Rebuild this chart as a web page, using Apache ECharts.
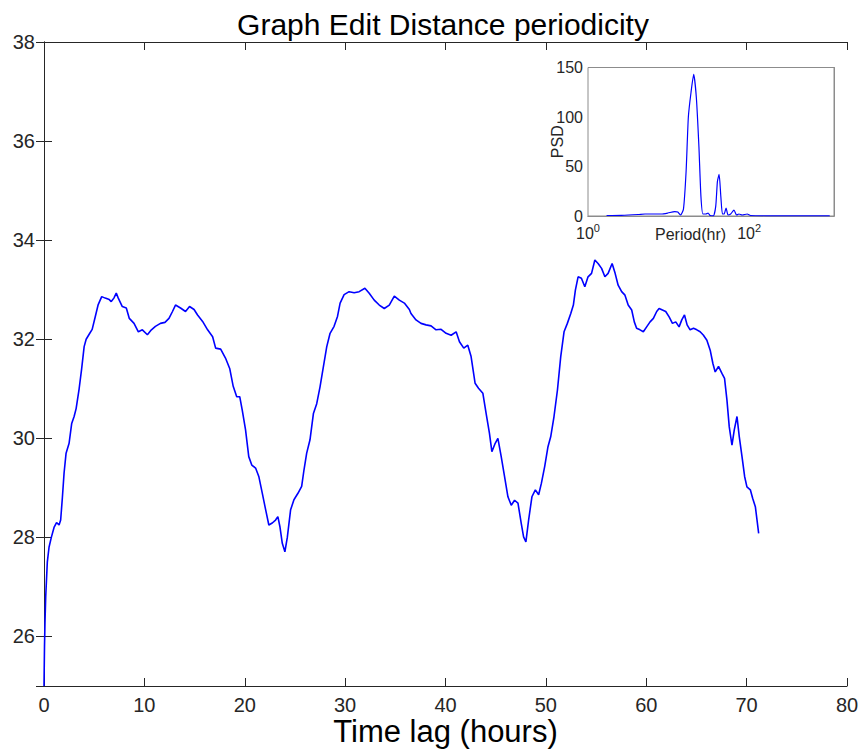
<!DOCTYPE html>
<html>
<head>
<meta charset="utf-8">
<script src="https://cdn.jsdelivr.net/npm/echarts@6/dist/echarts.min.js"></script>
<style>
html,body{margin:0;padding:0;background:#fff;}
#chart{width:861px;height:749px;}
</style>
</head>
<body>
<div id="chart"></div>
<script>
// ---- Main series: Graph Edit Distance vs time lag (hours) ----
const lagHours = [
  0, 0.05, 0.1, 0.17, 0.33, 0.5, 0.73, 1.0, 1.25, 1.5, 1.66, 1.83, 2.0, 2.2, 2.5, 2.76, 3.0, 3.2, 3.5, 3.75,
  4.0, 4.2, 4.5, 4.8, 5.1, 5.4, 5.75, 6.1, 6.5, 6.7, 6.96, 7.2, 7.4, 7.8, 8.2, 8.5, 8.97, 9.4, 9.8, 10.3,
  10.7, 11.1, 11.6, 12.05, 12.45, 12.8, 13.1, 13.6, 14.1, 14.5, 14.95, 15.3, 15.8, 16.3, 16.8, 17.1, 17.6, 18.08, 18.5, 18.85,
  19.2, 19.5, 19.75, 20.08, 20.4, 20.7, 21.08, 21.4, 21.74, 22.08, 22.4, 22.74, 23.07, 23.3, 23.5, 23.74, 24.0, 24.24, 24.57, 24.9,
  25.3, 25.67, 25.9, 26.17, 26.5, 26.84, 27.17, 27.5, 27.84, 28.17, 28.5, 28.9, 29.24, 29.5, 29.9, 30.4, 30.9, 31.4, 31.97, 32.4,
  32.9, 33.4, 33.9, 34.4, 34.9, 35.4, 35.9, 36.4, 36.56, 37.06, 37.56, 38.06, 38.56, 39.06, 39.56, 40.06, 40.56, 41.06, 41.39, 41.82,
  42.22, 42.55, 42.95, 43.29, 43.72, 44.05, 44.38, 44.62, 44.95, 45.22, 45.55, 45.88, 46.22, 46.55, 46.88, 47.22, 47.55, 47.78, 48.01, 48.28,
  48.61, 48.95, 49.28, 49.55, 49.88, 50.21, 50.48, 50.81, 51.15, 51.48, 51.81, 52.14, 52.48, 52.74, 52.94, 53.21, 53.54, 53.88, 54.2, 54.55,
  54.88, 55.2, 55.55, 55.88, 56.2, 56.6, 56.9, 57.2, 57.55, 57.88, 58.2, 58.55, 58.81, 59.04, 59.38, 59.71, 60.04, 60.38, 60.71, 61.04,
  61.28, 61.61, 61.94, 62.28, 62.61, 62.94, 63.27, 63.54, 63.81, 64.07, 64.37, 64.71, 65.04, 65.37, 65.7, 66.04, 66.37, 66.64, 66.87, 67.2,
  67.54, 67.8, 68.04, 68.27, 68.54, 68.77, 69.04, 69.27, 69.54, 69.8, 70.03, 70.37, 70.6, 70.87, 71.2
];
const gedValues = [
  25.0, 25.8, 26.3, 26.8, 27.5, 27.8, 28.0, 28.2, 28.3, 28.25, 28.35, 28.8, 29.3, 29.7, 29.9, 30.3, 30.44, 30.6, 31.0, 31.4,
  31.85, 32.0, 32.1, 32.2, 32.45, 32.7, 32.86, 32.83, 32.8, 32.76, 32.83, 32.93, 32.83, 32.66, 32.63, 32.42, 32.32, 32.15, 32.19, 32.09,
  32.19, 32.26, 32.32, 32.34, 32.42, 32.56, 32.69, 32.63, 32.56, 32.66, 32.6, 32.49, 32.36, 32.19, 32.05, 31.82, 31.8, 31.62, 31.41, 31.05,
  30.84, 30.84, 30.57, 30.17, 29.63, 29.46, 29.4, 29.23, 28.9, 28.56, 28.25, 28.29, 28.35, 28.42, 28.22, 27.88, 27.71, 28.0, 28.56, 28.76,
  28.89, 29.03, 29.36, 29.7, 29.97, 30.5, 30.7, 31.04, 31.45, 31.85, 32.12, 32.26, 32.46, 32.73, 32.9, 32.96, 32.94, 32.96, 33.03, 32.93,
  32.79, 32.69, 32.62, 32.69, 32.87, 32.79, 32.73, 32.6, 32.52, 32.39, 32.32, 32.29, 32.27, 32.19, 32.2, 32.12, 32.08, 32.15, 31.95, 31.82,
  31.88, 31.65, 31.11, 31.01, 30.91, 30.5, 30.1, 29.73, 29.9, 30.0, 29.63, 29.23, 28.82, 28.65, 28.75, 28.69, 28.28, 28.01, 27.91, 28.35,
  28.82, 28.96, 28.86, 29.09, 29.43, 29.83, 30.03, 30.44, 30.97, 31.65, 32.15, 32.32, 32.52, 32.69, 32.99, 33.26, 33.23, 33.06, 33.26, 33.33,
  33.6, 33.53, 33.43, 33.26, 33.33, 33.53, 33.33, 33.09, 32.96, 32.89, 32.69, 32.59, 32.35, 32.22, 32.19, 32.15, 32.25, 32.35, 32.42, 32.56,
  32.62, 32.59, 32.56, 32.45, 32.32, 32.35, 32.25, 32.39, 32.49, 32.29, 32.19, 32.22, 32.19, 32.15, 32.08, 31.98, 31.78, 31.51, 31.34, 31.45,
  31.31, 31.21, 30.77, 30.23, 29.86, 30.17, 30.44, 30.03, 29.63, 29.23, 29.02, 28.96, 28.79, 28.62, 28.08
];

// ---- Inset: power spectral density vs period (hr) ----
const periodHr = [
  1.7, 2.6, 4.2, 5.1, 8.1, 9.8, 11.9, 13.0, 14.1, 15.3, 16.5, 17.6, 19.0, 20.5, 22.1, 23.8, 25.2, 26.7, 29.0, 30.9,
  32.8, 36, 38.5, 40.4, 42.4, 44.5, 46.6, 48.8, 51.7, 54.7, 58.9, 64.8, 69.8, 74.6, 82, 94.5, 104, 182, 469, 1000
];
const psdValues = [
  0.5, 0.7, 1.5, 2, 2, 3, 4.5, 4, 1, 7, 45, 100, 125, 143, 120, 70, 20, 2, 2, 3,
  0.5, 0.2, 10, 35, 42, 20, 2, 2, 8, 1, 2, 6, 1, 2, 1, 2, 0.5, 0.2, 0.1, 0.1
];

// ---- Axis settings ----
const mainXTicks = [0, 10, 20, 30, 40, 50, 60, 70, 80];
const mainYTicks = [26, 28, 30, 32, 34, 36, 38];
const insetYTicks = [0, 50, 100, 150];
const insetXLabels = {1: '{b|10}{s|0}', 100: '{b|10}{s|2}'};

const FONT = 'Liberation Sans, Arial, Helvetica, sans-serif';
const AX = '#262626';
const INSET_AX = '#8c8c8c';

const chart = echarts.init(document.getElementById('chart'), null, {renderer: 'svg'});

const mainData = lagHours.map((t, i) => [t, gedValues[i]]);
const psdData = periodHr.map((p, i) => [p, psdValues[i]]);

function tickIn(len, color) {
  return {show: true, inside: true, length: len, lineStyle: {color: color, width: 1}};
}
const line = c => ({show: true, lineStyle: {color: c, width: 1}});

const option = {
  animation: false,
  backgroundColor: '#fff',
  title: {
    text: 'Graph Edit Distance periodicity',
    left: 438,
    top: 4,
    textAlign: 'center',
    textStyle: {fontFamily: FONT, fontSize: 30, fontWeight: 'normal', color: '#000'}
  },
  grid: [
    {left: 44, top: 42, width: 803, height: 644, show: false, containLabel: false, outerBoundsMode: 'none'},
    {left: 588, top: 67.5, width: 246, height: 148.5, show: true, backgroundColor: '#fff',
      borderColor: INSET_AX, borderWidth: 1, z: 5, containLabel: false, outerBoundsMode: 'none'}
  ],
  xAxis: [
    {
      gridIndex: 0, type: 'value', min: 0, max: 80, interval: 10, position: 'bottom',
      axisLine: line(AX), axisTick: tickIn(8, AX), splitLine: {show: false},
      axisLabel: {color: AX, fontFamily: FONT, fontSize: 20, margin: 9,
        formatter: v => mainXTicks.includes(v) ? String(v) : ''},
      name: 'Time lag (hours)', nameLocation: 'middle', nameGap: 30, nameMoveOverlap: false,
      nameTextStyle: {fontFamily: FONT, fontSize: 31, color: '#000'}
    },
    {
      gridIndex: 0, type: 'value', min: 0, max: 80, interval: 10, position: 'top',
      axisLine: line(AX), axisTick: tickIn(8, AX), axisLabel: {show: false}, splitLine: {show: false}
    },
    {
      gridIndex: 1, type: 'log', logBase: 10, min: 1, max: 1130, position: 'bottom',
      axisLine: line(INSET_AX), axisTick: tickIn(3, INSET_AX), minorTick: {show: false}, splitLine: {show: false},
      axisLabel: {
        color: AX, fontFamily: FONT, margin: 6,
        formatter: v => insetXLabels[Math.round(v)] || '',
        rich: {
          b: {fontFamily: FONT, fontSize: 16, color: AX},
          s: {fontFamily: FONT, fontSize: 11, color: AX, padding: [0, 0, 12, 0]}
        }
      }
    },
    {
      gridIndex: 1, type: 'log', logBase: 10, min: 1, max: 1130, position: 'top',
      axisLine: line(INSET_AX), axisTick: {show: false}, axisLabel: {show: false}, splitLine: {show: false}
    }
  ],
  yAxis: [
    {
      gridIndex: 0, type: 'value', min: 25, max: 38, splitNumber: 7, position: 'left',
      axisLine: line(AX), axisTick: tickIn(8, AX), splitLine: {show: false},
      axisLabel: {color: AX, fontFamily: FONT, fontSize: 20, margin: 9,
        formatter: v => mainYTicks.includes(v) ? String(v) : ''}
    },
    {
      gridIndex: 0, type: 'value', min: 25, max: 38, splitNumber: 7, position: 'right',
      axisLine: line(AX), axisTick: tickIn(8, AX), axisLabel: {show: false}, splitLine: {show: false}
    },
    {
      gridIndex: 1, type: 'value', min: 0, max: 150, interval: 50, position: 'left',
      axisLine: line(INSET_AX), axisTick: tickIn(3, INSET_AX), splitLine: {show: false},
      axisLabel: {color: AX, fontFamily: FONT, fontSize: 16, margin: 5,
        formatter: v => insetYTicks.includes(v) ? String(v) : ''},
      name: 'PSD', nameLocation: 'middle', nameGap: 23, nameRotate: 90, nameMoveOverlap: false,
      nameTextStyle: {fontFamily: FONT, fontSize: 16, color: AX}
    },
    {
      gridIndex: 1, type: 'value', min: 0, max: 150, interval: 50, position: 'right',
      axisLine: line(INSET_AX), axisTick: tickIn(3, INSET_AX), axisLabel: {show: false}, splitLine: {show: false}
    }
  ],
  graphic: [
    {type: 'text', left: 655, top: 226, z: 100,
      style: {text: 'Period(hr)', font: '16px ' + FONT, fill: AX}}
  ],
  series: [
    {
      type: 'line', xAxisIndex: 0, yAxisIndex: 0, data: mainData,
      showSymbol: false, symbol: 'none',
      lineStyle: {color: '#0000ff', width: 1.6}, z: 2
    },
    {
      type: 'line', xAxisIndex: 2, yAxisIndex: 2, data: psdData,
      showSymbol: false, symbol: 'none', smooth: 0.2,
      lineStyle: {color: '#0000ff', width: 1.2}, z: 10
    }
  ]
};
chart.setOption(option);
</script>
</body>
</html>
